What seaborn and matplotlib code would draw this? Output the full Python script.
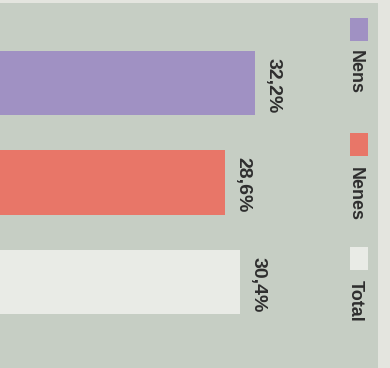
import matplotlib
matplotlib.use("Agg")
import matplotlib.pyplot as plt
import seaborn as sns
import pandas as pd
from matplotlib.patches import Rectangle

categories = ["Nens", "Nenes", "Total"]
values = [32.2, 28.6, 30.4]
value_labels = ["32,2%", "28,6%", "30,4%"]
colors = ["#a091c3", "#e87668", "#e9ebe6"]

sns.set_theme(style="white")
plt.rcParams['font.family'] = ['Liberation Sans', 'DejaVu Sans']

W, H = 390, 368
fig = plt.figure(figsize=(W / 100, H / 100), dpi=100, facecolor="#e4e5df")
ax_w, ax_h = 378, 365
ax = fig.add_axes([0, 0, ax_w / W, ax_h / H])
ax.set_facecolor("#c6cec4")

df = pd.DataFrame({"cat": categories, "val": values})
sns.barplot(data=df, x="val", y="cat", hue="cat", palette=colors, orient="h",
            width=0.65, legend=False, ax=ax, saturation=1, edgecolor="none")

xmin = 1.56
ppu = 8.33
xmax = xmin + ax_w / ppu
ax.set_xlim(xmin, xmax)
ax.set_ylim(2.864, -0.804)
ax.set_xticks([])
ax.set_yticks([])
ax.set_xlabel("")
ax.set_ylabel("")
for s in ax.spines.values():
    s.set_visible(False)

# value labels
for i, (v, lab) in enumerate(zip(values, value_labels)):
    ax.text(v + 18 / ppu, i - 0.325 + 7 / 99.5, lab, rotation=-90,
            ha="center", va="top", fontsize=14, fontweight="bold", color="#2e2e2e")

# legend (manual, rotated)
sq_tops = [18, 133, 247]
txt_tops = [50, 167, 280]
for c, name, st, tt in zip(colors, categories, sq_tops, txt_tops):
    ax.add_patch(Rectangle((350 / W, 1 - (st + 23) / H), 18 / W, 23 / H,
                           transform=fig.transFigure, facecolor=c,
                           edgecolor="none", zorder=5))
    fig.text(355 / W, 1 - tt / H, name, rotation=-90, ha="center", va="top",
             fontsize=13, fontweight="bold", color="#2e2e2e")

fig.savefig("out.png", dpi=100, facecolor=fig.get_facecolor())
